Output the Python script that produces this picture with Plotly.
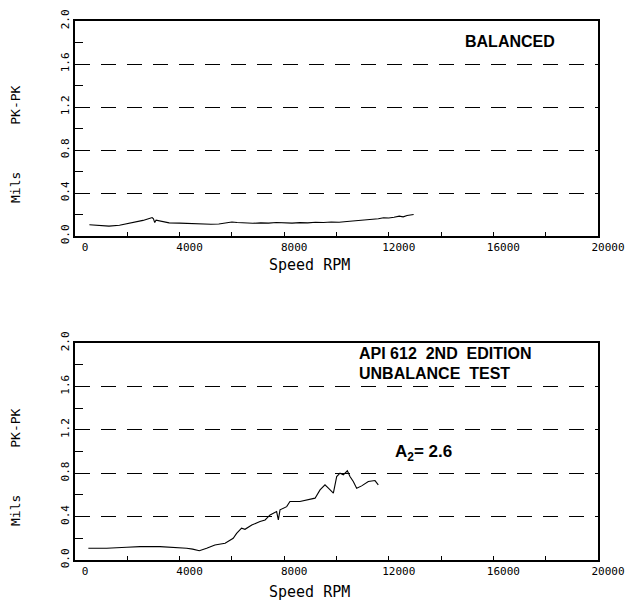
import plotly.graph_objects as go

# ---------------- data ----------------
rpm_balanced = [550, 900, 1300, 1700, 2000, 2300, 2600, 2900, 2950, 3000, 3050, 3100,
                3300, 3600, 4000, 4400, 4800, 5200, 5500, 5800, 6000, 6200, 6500, 6800,
                7100, 7400, 7700, 8000, 8300, 8600, 8900, 9200, 9500, 9800, 10100, 10400,
                10700, 11000, 11200, 11400, 11600, 11800, 12000, 12200, 12400, 12550,
                12700, 12950]
mils_balanced = [0.105, 0.100, 0.092, 0.100, 0.115, 0.128, 0.145, 0.168, 0.172, 0.160,
                 0.125, 0.148, 0.135, 0.122, 0.120, 0.115, 0.108, 0.110, 0.112, 0.120,
                 0.130, 0.125, 0.120, 0.118, 0.122, 0.120, 0.125, 0.122, 0.120, 0.124,
                 0.122, 0.128, 0.125, 0.130, 0.128, 0.135, 0.140, 0.150, 0.148, 0.155,
                 0.160, 0.170, 0.168, 0.175, 0.185, 0.178, 0.190, 0.200]

rpm_unbalance = [510, 1210, 1980, 2490, 3250, 3890, 4270, 4500, 4755, 5035, 5350, 5740,
                 6050, 6180, 6245, 6370, 6500, 6760, 7075, 7270, 7460, 7710, 7776, 7840,
                 8095, 8220, 8600, 8860, 9180, 9370, 9560, 9690, 9880, 10007, 10134,
                 10262, 10415, 10516, 10642, 10771, 10963, 11216, 11472, 11598]
mils_unbalance = [0.108, 0.108, 0.117, 0.123, 0.123, 0.117, 0.108, 0.100, 0.086, 0.108,
                  0.139, 0.154, 0.200, 0.245, 0.261, 0.293, 0.283, 0.323, 0.354, 0.369,
                  0.415, 0.446, 0.369, 0.462, 0.492, 0.539, 0.539, 0.554, 0.570, 0.646,
                  0.693, 0.662, 0.616, 0.769, 0.800, 0.785, 0.822, 0.769, 0.723, 0.662,
                  0.683, 0.723, 0.732, 0.693]

y_tick_vals = [0.0, 0.4, 0.8, 1.2, 1.6, 2.0]
y_tick_text = ["0.0", "0.4", "0.8", "1.2", "1.6", "2.0"]
y_minor_vals = [0.2, 0.6, 1.0, 1.4, 1.8]
x_tick_vals = [0, 4000, 8000, 12000, 16000, 20000]
x_tick_text = ["0", "4000", "8000", "12000", "16000", "20000"]

MONO = "DejaVu Sans Mono"
BOLD = "Liberation Sans, Arial"

fig = go.Figure()
fig.add_trace(go.Scatter(x=rpm_balanced, y=mils_balanced, mode="lines",
                         line=dict(color="black", width=1.1), xaxis="x", yaxis="y",
                         showlegend=False))
fig.add_trace(go.Scatter(x=rpm_unbalance, y=mils_unbalance, mode="lines",
                         line=dict(color="black", width=1.1), xaxis="x2", yaxis="y2",
                         showlegend=False))

xdom = [75 / 628, 598 / 628]


def xaxis_cfg(anchor):
    return dict(domain=xdom, anchor=anchor, range=[0, 20000], showline=True, mirror=True,
                linecolor="black", linewidth=1.5, tickmode="array", tickvals=x_tick_vals,
                ticktext=x_tick_text, ticks="inside", ticklen=4, tickcolor="black",
                tickwidth=1, minor=dict(dtick=2000, tick0=0, ticks="inside", ticklen=4,
                                        tickcolor="black", tickwidth=1, showgrid=False),
                showgrid=False, zeroline=False, ticklabelshift=10,
                tickfont=dict(family=MONO, size=11, color="black"), fixedrange=True)


def yaxis_cfg(anchor, dom):
    return dict(domain=dom, anchor=anchor, range=[0, 2], showline=True, mirror=True,
                linecolor="black", linewidth=1.5, tickmode="array", tickvals=y_tick_vals,
                ticktext=y_tick_text, ticks="", tickangle=-90, showgrid=True,
                gridcolor="black", gridwidth=1.2, griddash="15px,11px", zeroline=False,
                minor=dict(tickmode="array", tickvals=y_minor_vals, ticks="inside",
                           ticklen=8, tickcolor="black", tickwidth=1, showgrid=False),
                tickfont=dict(family=MONO, size=11, color="black"), fixedrange=True)


annotations = [
    dict(text="BALANCED", x=16635, y=1.81, xref="x", yref="y", showarrow=False,
         xanchor="center", yanchor="middle",
         font=dict(family=BOLD, size=16, color="black", weight="bold")),
    dict(text="API 612  2ND  EDITION", x=10780, y=1.90, xref="x2", yref="y2",
         showarrow=False, xanchor="left", yanchor="middle",
         font=dict(family=BOLD, size=16, color="black", weight="bold")),
    dict(text="UNBALANCE  TEST", x=10780, y=1.72, xref="x2", yref="y2",
         showarrow=False, xanchor="left", yanchor="middle",
         font=dict(family=BOLD, size=16, color="black", weight="bold")),
    dict(text="A<sub>2</sub>= 2.6", x=12160, y=0.99, xref="x2", yref="y2",
         showarrow=False, xanchor="left", yanchor="middle",
         font=dict(family=BOLD, size=17, color="black", weight="bold")),
    dict(text="Speed RPM", x=309 / 628, y=1 - 265 / 600, xref="paper", yref="paper",
         showarrow=False, xanchor="center", yanchor="middle",
         font=dict(family=MONO, size=15, color="black")),
    dict(text="Speed RPM", x=309 / 628, y=1 - 592 / 600, xref="paper", yref="paper",
         showarrow=False, xanchor="center", yanchor="middle",
         font=dict(family=MONO, size=15, color="black")),
    dict(text="Mils\u00a0\u00a0\u00a0\u00a0\u00a0\u00a0PK-PK", x=15 / 628,
         y=1 - 144 / 600, xref="paper", yref="paper", showarrow=False, textangle=-90,
         xanchor="center", yanchor="middle",
         font=dict(family=MONO, size=13, color="black")),
    dict(text="Mils\u00a0\u00a0\u00a0\u00a0\u00a0\u00a0PK-PK", x=15 / 628,
         y=1 - 467 / 600, xref="paper", yref="paper", showarrow=False, textangle=-90,
         xanchor="center", yanchor="middle",
         font=dict(family=MONO, size=13, color="black")),
]

fig.update_layout(
    width=628, height=600, margin=dict(l=0, r=0, t=0, b=0, autoexpand=False),
    paper_bgcolor="white", plot_bgcolor="white", showlegend=False,
    xaxis=xaxis_cfg("y"),
    yaxis=yaxis_cfg("x", [1 - 236 / 600, 1 - 21 / 600]),
    xaxis2=xaxis_cfg("y2"),
    yaxis2=yaxis_cfg("x2", [1 - 560 / 600, 1 - 343 / 600]),
    annotations=annotations,
)

fig.write_html("out.html", config={"displayModeBar": False},
               post_script="document.body.style.margin='0';"
                           "document.body.style.overflow='hidden';")
